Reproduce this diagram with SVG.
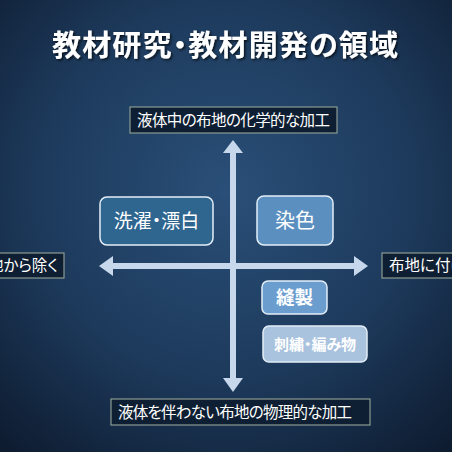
<svg xmlns="http://www.w3.org/2000/svg" width="452" height="452" viewBox="0 0 452 452">
<defs>
<radialGradient id="bg" cx="0.5" cy="0.42" r="0.75">
<stop offset="0" stop-color="#2a4f78"/>
<stop offset="0.55" stop-color="#1d3a5c"/>
<stop offset="1" stop-color="#0e1c30"/>
</radialGradient>
<filter id="sh" x="-10%" y="-30%" width="120%" height="160%">
<feDropShadow dx="1.5" dy="1.5" stdDeviation="1" flood-color="#000" flood-opacity="0.7"/>
</filter>
</defs>
<style>
text{font-family:"Noto Sans CJK JP","Noto Sans CJK SC",sans-serif;}
.p{font-feature-settings:"palt";}
.title{font-size:29px;font-weight:bold;fill:#fff;}
.lbl{fill:#0f1f33;stroke:#8a9c92;stroke-width:1.2;}
.lt{font-size:15.5px;fill:#fff;font-feature-settings:"palt";}
.node{stroke:#e4eef8;stroke-width:1.5;}
.nt{fill:#fff;text-anchor:middle;}
.ax{fill:#c8d8ec;}
</style>
<rect width="452" height="452" fill="url(#bg)"/>
<text class="title p" x="52" y="56" textLength="346" lengthAdjust="spacing" filter="url(#sh)">教材研究・教材開発の領域</text>

<g id="label-top"><rect class="lbl" x="130" y="107" width="207" height="26"/><text class="lt" x="137" y="126" textLength="193" lengthAdjust="spacing">液体中の布地の化学的な加工</text></g>
<g id="label-bottom"><rect class="lbl" x="111" y="399" width="259" height="26"/><text class="lt" x="118" y="418" textLength="234" lengthAdjust="spacing">液体を伴わない布地の物理的な加工</text></g>
<g id="label-left"><rect class="lbl" x="-40" y="253" width="104" height="25"/><text class="lt" x="58" y="271" text-anchor="end">布地から除く</text></g>
<g id="label-right"><rect class="lbl" x="382" y="253" width="110" height="25"/><text class="lt" x="389" y="271">布地に付ける</text></g>

<g id="connectors">
<rect class="ax" x="230" y="152" width="6" height="228"/>
<polygon class="ax" points="233,140 243,153 223,153"/>
<polygon class="ax" points="233,392 243,378 223,378"/>
<rect class="ax" x="112" y="263" width="244" height="6"/>
<polygon class="ax" points="99,266 113,256 113,276"/>
<polygon class="ax" points="368,266 354,256 354,276"/>
</g>

<g id="n-senntaku"><rect class="node" x="100" y="197" width="113" height="48" rx="7" fill="#2f6690"/><text class="nt p" x="156.5" y="228" font-size="19">洗濯・漂白</text></g>
<g id="n-senshoku"><rect class="node" x="257" y="196" width="76" height="49" rx="7" fill="#5a8fc0"/><text class="nt" x="295" y="228" font-size="20">染色</text></g>
<g id="n-housei"><rect class="node" x="262" y="281" width="65" height="33" rx="6" fill="#6b9dcf"/><text class="nt" x="294.5" y="304" font-size="18.5" font-weight="bold">縫製</text></g>
<g id="n-shishu"><rect class="node" x="263" y="326" width="104" height="36" rx="6" fill="#a9c2de"/><text class="nt p" x="315" y="350" font-size="15" font-weight="bold" fill="#eef4fb">刺繍・編み物</text></g>
</svg>
